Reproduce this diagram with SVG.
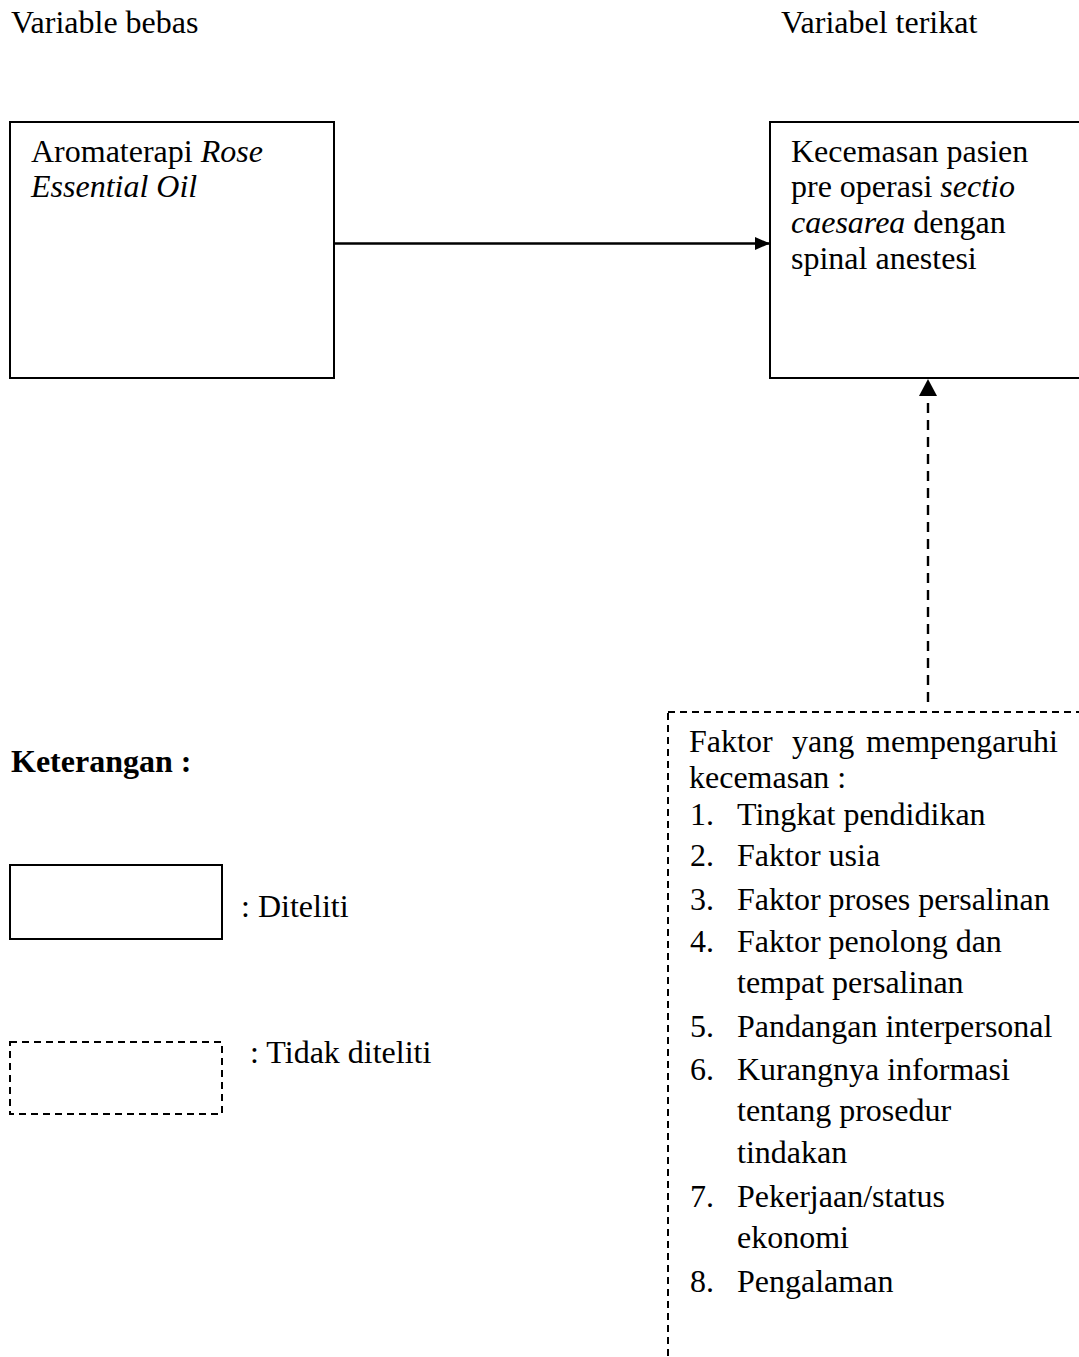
<svg xmlns="http://www.w3.org/2000/svg" width="1079" height="1357" viewBox="0 0 1079 1357">
<defs>
<style>
text { font-family: "Liberation Serif", "Times New Roman", serif; font-size: 32px; fill: #000; }
.it { font-style: italic; }
.b { font-weight: bold; }
.solid { fill: none; stroke: #000; stroke-width: 2; }
.dash { fill: none; stroke: #000; stroke-width: 2; stroke-dasharray: 7 5; }
.conn { fill: none; stroke: #000; stroke-width: 2.4; }
.conn-d { fill: none; stroke: #000; stroke-width: 2.4; stroke-dasharray: 10 7; }
</style>
<marker id="arrowH" markerUnits="userSpaceOnUse" markerWidth="17" markerHeight="16" refX="15" refY="7" orient="auto">
<polygon points="0,0.5 15,7 0,13.5" fill="#000"/>
</marker>
<marker id="arrowV" markerUnits="userSpaceOnUse" markerWidth="19" markerHeight="19" refX="17" refY="9" orient="auto">
<polygon points="0,0 17,9 0,18" fill="#000"/>
</marker>
</defs>
<rect width="1079" height="1357" fill="#fff"/>

<text x="11" y="33">Variable bebas</text>
<text x="781" y="33">Variabel terikat</text>

<g id="connectors">
<line class="conn" x1="335" y1="243.5" x2="770" y2="243.5" marker-end="url(#arrowH)"/>
<line class="conn-d" x1="928" y1="702" x2="928" y2="379" marker-end="url(#arrowV)"/>
</g>

<g id="node-aromaterapi">
<rect class="solid" x="10" y="122" width="324" height="256"/>
<text x="31" y="162">Aromaterapi <tspan class="it">Rose</tspan></text>
<text x="31" y="197" class="it">Essential Oil</text>
</g>

<g id="node-kecemasan">
<rect class="solid" x="770" y="122" width="400" height="256"/>
<text x="791" y="162">Kecemasan pasien</text>
<text x="791" y="197">pre operasi <tspan class="it">sectio</tspan></text>
<text x="791" y="233"><tspan class="it">caesarea</tspan> dengan</text>
<text x="791" y="269">spinal anestesi</text>
</g>

<g id="node-faktor">
<rect class="dash" x="668" y="712" width="500" height="800"/>
<text x="689" y="752">Faktor</text>
<text x="792" y="752">yang</text>
<text x="1058" y="752" text-anchor="end">mempengaruhi</text>
<text x="689" y="788">kecemasan :</text>
<text x="690" y="825">1.</text><text x="737" y="825">Tingkat pendidikan</text>
<text x="690" y="866">2.</text><text x="737" y="866">Faktor usia</text>
<text x="690" y="910">3.</text><text x="737" y="910">Faktor proses persalinan</text>
<text x="690" y="952">4.</text><text x="737" y="952">Faktor penolong dan</text>
<text x="737" y="993">tempat persalinan</text>
<text x="690" y="1037">5.</text><text x="737" y="1037">Pandangan interpersonal</text>
<text x="690" y="1080">6.</text><text x="737" y="1080">Kurangnya informasi</text>
<text x="737" y="1121">tentang prosedur</text>
<text x="737" y="1163">tindakan</text>
<text x="690" y="1207">7.</text><text x="737" y="1207">Pekerjaan/status</text>
<text x="737" y="1248">ekonomi</text>
<text x="690" y="1292">8.</text><text x="737" y="1292">Pengalaman</text>
</g>

<g id="legend">
<text x="11" y="772" class="b">Keterangan :</text>
<rect class="solid" x="10" y="865" width="212" height="74"/>
<text x="241" y="917">: Diteliti</text>
<rect class="dash" x="10" y="1042" width="212" height="72"/>
<text x="250" y="1063">: Tidak diteliti</text>
</g>
</svg>
